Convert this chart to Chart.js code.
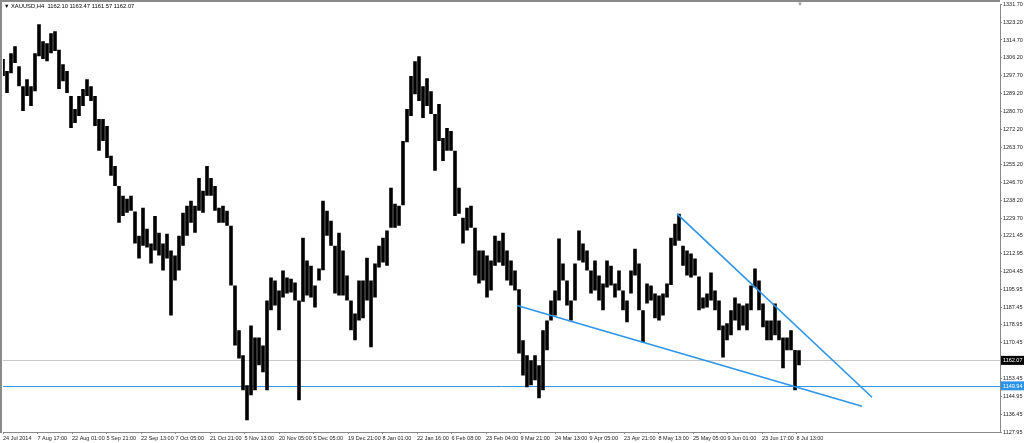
<!DOCTYPE html>
<html>
<head>
<meta charset="utf-8">
<script src="https://cdn.jsdelivr.net/npm/chart.js@4.4.1/dist/chart.umd.min.js"></script>
<style>
  html, body { margin: 0; padding: 0; background: #fff; }
  #wrap { width: 1024px; height: 443px; }
</style>
</head>
<body>
<div id="wrap"><canvas id="chart" width="1024" height="443"></canvas></div>
<script>
// --- data ---
const symbolTitle = 'XAUUSD,H4';
const lastQuote = ['1162.10', '1163.47', '1161.57', '1162.07'];

// one plotted bar = 8 H4 bars
const barStep = 8;
const barHigh = [
  1305.6, 1299.9, 1308.4, 1311.7, 1302.2, 1292.7, 1296.0, 1292.7, 1308.4, 1322.2,
  1314.1, 1313.2, 1317.9, 1318.9, 1310.0, 1303.2, 1299.9, 1288.0, 1281.8, 1288.0,
  1291.3, 1296.0, 1292.7, 1288.0, 1277.1, 1277.1, 1273.7, 1259.5, 1254.7, 1245.2,
  1240.5, 1239.1, 1240.5, 1233.0, 1221.5, 1234.8, 1224.8, 1217.7, 1230.9, 1222.9,
  1217.7, 1222.4, 1214.4, 1212.0, 1221.5, 1232.4, 1235.7, 1238.1, 1235.7, 1249.0,
  1242.9, 1254.7, 1249.0, 1245.2, 1234.8, 1235.7, 1233.3, 1226.2, 1197.7, 1176.4,
  1164.5, 1150.2, 1178.7, 1173.0, 1173.0, 1169.2, 1190.6, 1201.5, 1200.1, 1195.4,
  1204.9, 1201.5, 1201.0, 1199.2, 1190.6, 1220.5, 1209.6, 1207.2, 1197.7, 1205.8,
  1238.1, 1233.3, 1228.6, 1216.7, 1222.9, 1214.4, 1202.5, 1190.6, 1184.4, 1200.1,
  1200.1, 1211.0, 1200.1, 1208.2, 1216.7, 1220.5, 1223.9, 1244.3, 1236.7, 1235.7,
  1266.6, 1281.8, 1297.5, 1304.6, 1307.0, 1292.7, 1296.5, 1290.3, 1279.4, 1284.2,
  1268.0, 1272.8, 1271.3, 1261.9, 1244.3, 1230.0, 1234.8, 1235.7, 1225.3, 1214.4,
  1214.4, 1212.0, 1209.6, 1221.5, 1219.1, 1222.9, 1214.4, 1209.6, 1204.9, 1196.0,
  1171.6, 1164.5, 1162.1, 1164.5, 1159.7, 1176.4, 1181.1, 1190.6, 1195.4, 1220.1,
  1208.2, 1200.1, 1190.6, 1208.2, 1223.9, 1217.7, 1214.4, 1204.9, 1209.6, 1202.5,
  1198.7, 1209.6, 1207.2, 1198.7, 1204.9, 1195.4, 1190.6, 1204.9, 1215.3, 1208.2,
  1185.9, 1198.7, 1197.7, 1193.9, 1193.0, 1193.9, 1198.7, 1220.5, 1227.2, 1231.9,
  1216.7, 1214.4, 1213.0, 1210.6, 1202.0, 1192.0, 1193.9, 1203.9, 1195.4, 1190.6,
  1178.7, 1179.7, 1185.9, 1192.0, 1189.2, 1188.2, 1189.2, 1197.7, 1205.8, 1200.1,
  1189.2, 1181.1, 1181.1, 1189.2, 1181.1, 1173.0, 1173.0, 1176.4, 1167.0, 1166.9
];
const barLow = [
  1297.5, 1289.4, 1298.9, 1303.7, 1292.7, 1280.9, 1288.0, 1283.2, 1290.3, 1307.0,
  1305.6, 1304.6, 1308.4, 1309.4, 1291.3, 1295.1, 1289.4, 1272.8, 1275.2, 1278.5,
  1283.2, 1288.0, 1285.6, 1273.7, 1261.9, 1266.6, 1258.5, 1250.0, 1245.2, 1227.6,
  1230.9, 1232.4, 1233.3, 1217.7, 1210.6, 1216.7, 1215.8, 1208.2, 1214.4, 1212.0,
  1204.9, 1210.6, 1183.5, 1200.1, 1204.9, 1216.7, 1221.5, 1227.6, 1222.9, 1233.3,
  1232.4, 1240.5, 1240.5, 1233.3, 1227.6, 1227.6, 1226.2, 1197.7, 1169.2, 1163.0,
  1147.8, 1133.6, 1145.5, 1147.8, 1159.7, 1156.4, 1147.8, 1185.9, 1188.2, 1176.4,
  1192.0, 1193.9, 1194.4, 1190.6, 1143.1, 1190.0, 1193.0, 1192.0, 1187.3, 1200.1,
  1205.0, 1221.5, 1216.7, 1193.9, 1193.0, 1193.0, 1190.6, 1176.4, 1171.6, 1181.1,
  1182.1, 1190.6, 1168.3, 1192.0, 1206.3, 1208.7, 1207.2, 1225.3, 1225.3, 1226.2,
  1236.0, 1266.0, 1278.5, 1288.9, 1285.6, 1277.5, 1283.2, 1279.4, 1252.4, 1266.6,
  1257.1, 1261.9, 1261.9, 1230.9, 1231.9, 1217.7, 1223.9, 1225.3, 1202.5, 1198.7,
  1200.1, 1192.0, 1195.4, 1207.2, 1208.7, 1207.2, 1200.1, 1197.7, 1195.4, 1165.4,
  1154.9, 1149.3, 1150.2, 1152.6, 1144.0, 1147.8, 1166.9, 1181.1, 1183.5, 1190.6,
  1200.1, 1188.2, 1181.1, 1190.6, 1209.6, 1208.7, 1204.9, 1193.9, 1195.4, 1190.6,
  1185.9, 1196.8, 1197.7, 1192.0, 1195.4, 1185.9, 1180.2, 1193.9, 1202.5, 1185.9,
  1170.6, 1189.2, 1190.6, 1182.1, 1181.1, 1183.5, 1192.0, 1198.0, 1216.7, 1219.1,
  1207.2, 1202.5, 1201.5, 1202.5, 1185.9, 1186.8, 1187.3, 1190.6, 1185.9, 1176.4,
  1163.5, 1171.6, 1174.0, 1181.1, 1176.4, 1178.7, 1176.4, 1185.9, 1196.8, 1185.9,
  1177.8, 1171.6, 1171.6, 1174.0, 1171.6, 1158.3, 1166.9, 1166.9, 1147.8, 1159.7
];

// time axis (x = H4 bar number)
const timeLabels = [
  '24 Jul 2014', '7 Aug 17:00', '22 Aug 01:00', '5 Sep 21:00', '22 Sep 13:00',
  '7 Oct 05:00', '21 Oct 21:00', '5 Nov 13:00', '20 Nov 05:00', '5 Dec 05:00',
  '19 Dec 21:00', '8 Jan 01:00', '22 Jan 16:00', '6 Feb 08:00', '23 Feb 04:00',
  '9 Mar 21:00', '24 Mar 13:00', '9 Apr 05:00', '23 Apr 21:00', '8 May 13:00',
  '25 May 05:00', '9 Jun 01:00', '23 Jun 17:00', '8 Jul 13:00'
];
const labelEvery = 69;
const axisEnd = 1994;

// price axis
const priceMin = 1127.95;
const priceMax = 1331.70;
const priceTicks = [
  1331.70, 1323.20, 1314.70, 1306.20, 1297.70, 1289.20, 1280.70, 1272.20,
  1263.70, 1255.20, 1246.70, 1238.20, 1229.70, 1221.45, 1212.95, 1204.45,
  1195.95, 1187.45, 1178.95, 1170.45, 1153.45, 1144.95, 1136.45, 1127.95
];

const bidPrice = 1162.07;
const levelPrice = 1149.94;

// drawn trend lines (bar number, price)
const trendUpper = [{ x: 1348, y: 1231.9 }, { x: 1738, y: 1144.5 }];
const trendLower = [{ x: 1028, y: 1188.2 }, { x: 1718, y: 1140.2 }];

// --- styles ---
const FONT = '"Liberation Sans", Arial, sans-serif';
const axisFont = { family: FONT, size: 5.5 };
const BLUE = '#2d94e8';

const bars = barHigh.map((h, i) => ({ x: i * barStep, y: [barLow[i], h] }));

// MT4 style extras: level lines, frame, header and price boxes
const mtDecor = {
  id: 'mtDecor',
  beforeDatasetsDraw(chart) {
    const { ctx, chartArea: a, scales: { y } } = chart;
    ctx.save();
    ctx.lineWidth = 1;
    ctx.strokeStyle = '#c8c8c8';
    let py = Math.round(y.getPixelForValue(bidPrice)) + 0.5;
    ctx.beginPath(); ctx.moveTo(a.left, py); ctx.lineTo(a.right, py); ctx.stroke();
    ctx.strokeStyle = BLUE;
    py = Math.round(y.getPixelForValue(levelPrice)) + 0.5;
    ctx.beginPath(); ctx.moveTo(a.left, py); ctx.lineTo(a.right, py); ctx.stroke();
    ctx.restore();
  },
  afterDraw(chart) {
    const { ctx, chartArea: a, scales: { y } } = chart;
    ctx.save();
    // frame
    ctx.strokeStyle = '#8a8a8a';
    ctx.lineWidth = 2;
    ctx.beginPath();
    ctx.moveTo(1, a.bottom + 1); ctx.lineTo(1, 1); ctx.lineTo(a.right, 1);
    ctx.stroke();

    // header
    ctx.fillStyle = '#000';
    ctx.font = '5.5px ' + FONT;
    ctx.textBaseline = 'middle';
    ctx.fillText('▼', 4, 6);
    ctx.font = '5.8px ' + FONT;
    ctx.fillText(symbolTitle + '  ' + lastQuote.join(' '), 11, 6.5);

    // chart shift marker
    ctx.fillStyle = '#a0a0a0';
    ctx.font = '6px ' + FONT;
    ctx.fillText('▼', 797, 4);

    // price boxes on the right axis
    const box = (price, bg) => {
      const py = y.getPixelForValue(price);
      ctx.fillStyle = bg;
      ctx.fillRect(a.right + 1, py - 4.5, 23, 9);
      ctx.fillStyle = '#fff';
      ctx.font = '5.5px ' + FONT;
      ctx.textBaseline = 'middle';
      ctx.fillText(price.toFixed(2), a.right + 3, py + 0.5);
    };
    box(bidPrice, '#000');
    box(levelPrice, BLUE);
    ctx.restore();
  }
};

new Chart(document.getElementById('chart'), {
  type: 'bar',
  data: {
    datasets: [
      {
        type: 'line', data: trendUpper, borderColor: BLUE, borderWidth: 1.6,
        pointRadius: 0, fill: false, order: 0
      },
      {
        type: 'line', data: trendLower, borderColor: BLUE, borderWidth: 1.6,
        pointRadius: 0, fill: false, order: 0
      },
      {
        data: bars, backgroundColor: '#000', borderWidth: 0,
        barPercentage: 0.9, categoryPercentage: 1, order: 1
      }
    ]
  },
  plugins: [mtDecor],
  options: {
    responsive: false,
    animation: false,
    devicePixelRatio: 1,
    events: [],
    layout: { padding: { left: 3, top: 3, right: 0, bottom: 0 } },
    plugins: { legend: { display: false }, tooltip: { enabled: false } },
    scales: {
      x: {
        type: 'linear', min: 0, max: axisEnd, offset: false,
        afterBuildTicks: s => { s.ticks = timeLabels.map((_, i) => ({ value: i * labelEvery })); },
        afterFit: s => { s.height = 11; },
        ticks: {
          callback: (v, i) => timeLabels[i], align: 'start', autoSkip: false,
          maxRotation: 0, padding: 1, font: axisFont, color: '#222'
        },
        grid: { drawOnChartArea: false, offset: false, tickLength: 2, color: '#888' },
        border: { color: '#888', width: 1 }
      },
      y: {
        position: 'right', min: priceMin, max: priceMax,
        afterBuildTicks: s => { s.ticks = priceTicks.map(v => ({ value: v })); },
        afterFit: s => { s.width = 24; },
        ticks: {
          callback: v => v.toFixed(2), autoSkip: false, padding: 1,
          font: axisFont, color: '#222'
        },
        grid: { drawOnChartArea: false, tickLength: 2, color: '#888' },
        border: { color: '#888', width: 1 }
      }
    }
  }
});
</script>
</body>
</html>
